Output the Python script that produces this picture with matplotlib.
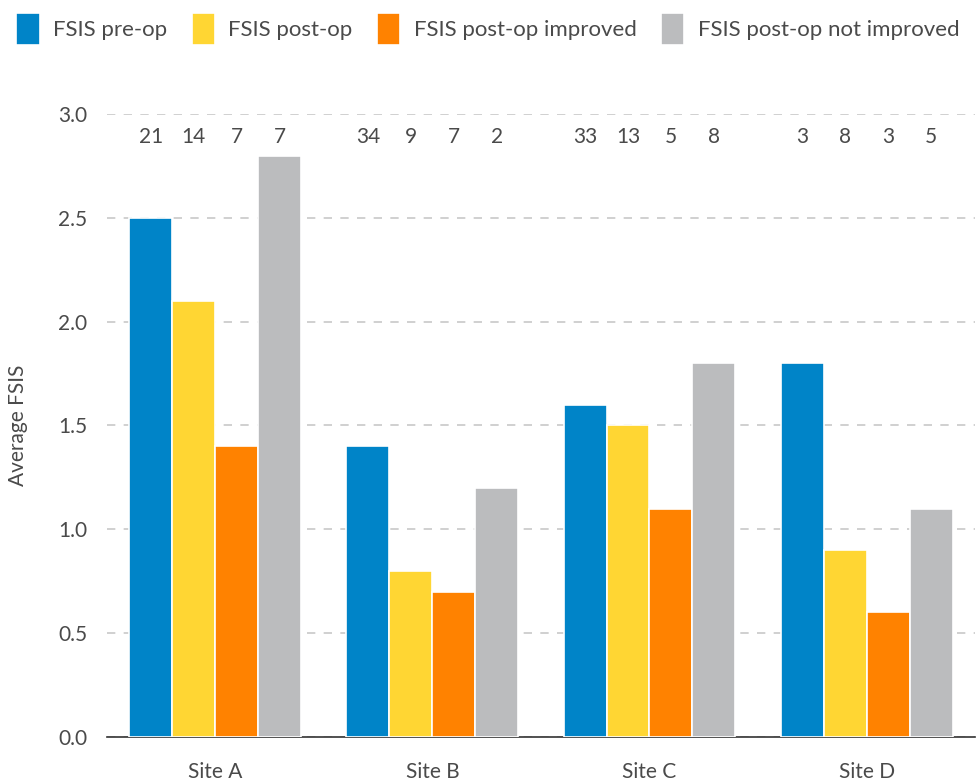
import numpy as np
import matplotlib
matplotlib.use('Agg')
import matplotlib.pyplot as plt

plt.rcParams['font.family'] = ['Lato', 'DejaVu Sans']

sites = ['Site A', 'Site B', 'Site C', 'Site D']
series = ['FSIS pre-op', 'FSIS post-op', 'FSIS post-op improved', 'FSIS post-op not improved']
pre_op = [2.5, 1.4, 1.6, 1.8]
post_op = [2.1, 0.8, 1.5, 0.9]
improved = [1.4, 0.7, 1.1, 0.6]
not_improved = [2.8, 1.2, 1.8, 1.1]
counts = [[21, 34, 33, 3], [14, 9, 13, 8], [7, 7, 5, 3], [7, 2, 8, 5]]
colors = ['#0084C8', '#FFD633', '#FF8200', '#BBBCBE']
text_col = '#4a4a4a'

fig = plt.figure(figsize=(9.8, 7.84), dpi=100)
ax = fig.add_axes([0.109, 0.060, 0.886, 0.7946])

x = np.arange(len(sites))
w = 0.198
vals = [pre_op, post_op, improved, not_improved]
for i, v in enumerate(vals):
    pos = x + (i - 1.5) * w
    ax.bar(pos, v, width=w, color=colors[i], edgecolor='white', linewidth=1.2,
           label=series[i], zorder=3)
    for p, c in zip(pos, counts[i]):
        ax.text(p, 2.89, str(c), ha='center', va='center', fontsize=15, color=text_col)

ax.set_xlim(-0.5, 3.5)
ax.set_ylim(0, 3.0)
ax.set_yticks(np.arange(0, 3.01, 0.5))
ax.set_yticklabels(['%.1f' % t for t in np.arange(0, 3.01, 0.5)])
ax.set_xticks(x)
ax.set_xticklabels(sites)
ax.yaxis.grid(True, linestyle=(0, (5, 5)), color='#c8c8c8', linewidth=1.2, zorder=0)
ax.set_axisbelow(True)
for s in ['top', 'right', 'left']:
    ax.spines[s].set_visible(False)
ax.spines['bottom'].set_color('#333333')
ax.spines['bottom'].set_linewidth(1.2)
ax.tick_params(axis='both', length=0, labelsize=15, colors=text_col)
ax.tick_params(axis='y', pad=14)
ax.tick_params(axis='x', pad=18)
ax.set_ylabel('Average FSIS', fontsize=15, color=text_col, labelpad=22)

fig.legend(loc='upper left', bbox_to_anchor=(0.003, 1.0), ncol=4, frameon=False,
           fontsize=16, handlelength=1.05, handleheight=1.8, handletextpad=0.6,
           columnspacing=1.1, borderaxespad=0.2, labelcolor=text_col)

fig.savefig('out.png', dpi=100)
